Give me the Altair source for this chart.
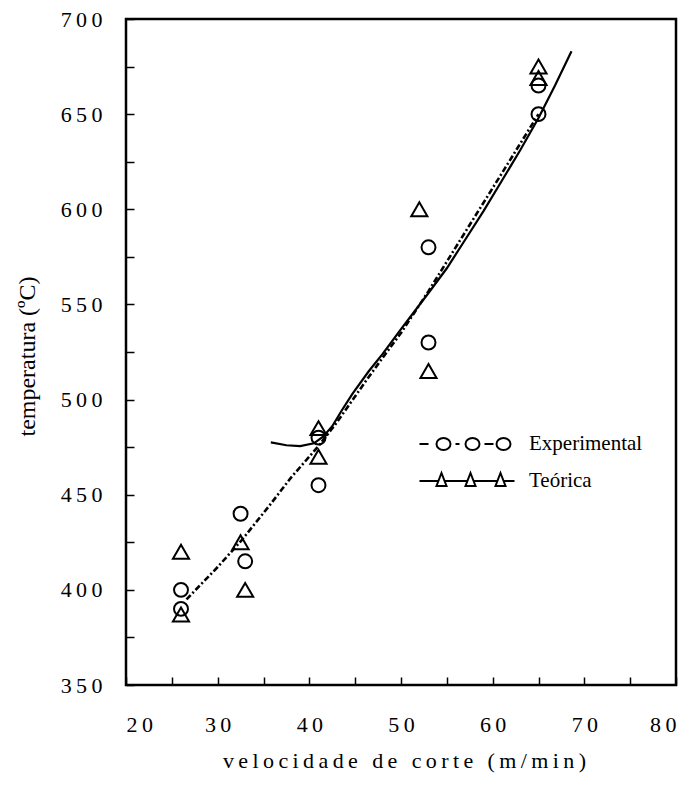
import altair as alt
import pandas as pd

# ---- data ----
series = ["Experimental", "Teórica"]

exp_x = [26, 26, 32.5, 33, 41, 41, 53, 53, 65, 65]
exp_y = [400, 390, 440, 415, 480, 455, 580, 530, 665, 650]

teo_x = [26, 26, 32.5, 33, 41, 41, 52, 53, 65, 65]
teo_y = [420, 387, 425, 400, 485, 470, 600, 515, 675, 669]

exp_fit_x = [26.6, 30, 32.6, 35.6, 38, 40.9, 43, 46.2, 48, 50, 53, 57, 61.4, 65]
exp_fit_y = [395, 412, 426, 444, 459, 475, 488, 510, 522, 535, 557, 588, 622, 650]

teo_fit_x = [35.8, 37.5, 39, 40.5, 41.5, 42.5, 43.5, 44.7, 46.5, 48, 50, 53, 55,
             57, 59, 61, 63, 65, 66.8, 68.6]
teo_fit_y = [477.5, 476, 475.5, 477, 480.5, 486, 494, 503, 515, 524, 537, 556, 569,
             584, 599, 615, 631, 648, 665, 683]

x_labels = [20, 30, 40, 50, 60, 70, 80]
y_labels = [350, 400, 450, 500, 550, 600, 650, 700]
x_ticks = [20, 25, 30, 35, 40, 45, 50, 55, 60, 65, 70, 75, 80]
y_ticks = [350, 375, 400, 425, 450, 475, 500, 525, 550, 575, 600, 625, 650, 675, 700]

x_title = "velocidade de corte (m/min)"
y_title = "temperatura (ºC)"

# ---- tables ----
exp_pts = pd.DataFrame({"x": exp_x, "y": exp_y, "series": series[0]})
teo_pts = pd.DataFrame({"x": teo_x, "y": teo_y, "series": series[1]})
exp_fit = pd.DataFrame({"x": exp_fit_x, "y": exp_fit_y})
teo_fit = pd.DataFrame({"x": teo_fit_x, "y": teo_fit_y})

FONT = "Liberation Serif"
THIN = "\u2009"

xs = alt.Scale(domain=[20, 80], nice=False, zero=False)
ys = alt.Scale(domain=[350, 700], nice=False, zero=False)

label_expr = "join(split(datum.label, ''), '" + THIN + "')"

x_main = alt.Axis(orient="bottom", values=x_labels, title=THIN.join(x_title),
                  titleFont=FONT, titleFontSize=22, titleFontWeight="normal",
                  titleColor="black", titleX=278, titleY=82,
                  titleBaseline="alphabetic", titleAlign="center",
                  labelFont=FONT, labelFontSize=22, labelColor="black",
                  labelPadding=29, labelExpr=label_expr,
                  ticks=False, tickSize=0, domain=False, grid=False)
y_main = alt.Axis(orient="left", values=y_labels, title=y_title,
                  titleFont=FONT, titleFontSize=24, titleFontWeight="normal",
                  titleColor="black", titleX=-92, titleY=337, titleAngle=270,
                  titleBaseline="alphabetic", titleAlign="center",
                  labelFont=FONT, labelFontSize=22, labelColor="black",
                  labelPadding=24, labelExpr=label_expr,
                  ticks=False, tickSize=0, domain=False, grid=False)

x_tick_axis = alt.Axis(orient="bottom", values=x_ticks, labels=False, domain=False,
                       grid=False, ticks=True, tickSize=8, tickWidth=1.5,
                       tickColor="black", offset=-8, title=None)
y_tick_axis = alt.Axis(orient="left", values=y_ticks, labels=False, domain=False,
                       grid=False, ticks=True, tickSize=8, tickWidth=1.5,
                       tickColor="black", offset=-8, title=None)

exp_line = alt.Chart(exp_fit).mark_line(
    color="black", strokeWidth=2.6, strokeDash=[6, 2.5, 2, 2.5]
).encode(
    x=alt.X("x:Q", scale=xs, axis=x_main),
    y=alt.Y("y:Q", scale=ys, axis=y_main),
)

teo_line = alt.Chart(teo_fit).mark_line(color="black", strokeWidth=2.2).encode(
    x=alt.X("x:Q", scale=xs, axis=x_tick_axis),
    y=alt.Y("y:Q", scale=ys, axis=y_tick_axis),
)

# legend sample glyphs (pixel units, symbolSize 4 -> scale 1)
exp_sym = ("M0,0H9 "
           "M17,0A7,6 0 1,1 31,0A7,6 0 1,1 17,0 "
           "M36,0H40 "
           "M46,0A7,6 0 1,1 60,0A7,6 0 1,1 46,0 "
           "M65,0H74 "
           "M77,0A7,6 0 1,1 91,0A7,6 0 1,1 77,0")
teo_sym = ("M0,0H18.9 M25.1,0H47.9 M54.1,0H77.9 M84.1,0H95 "
           "M22,-8L27,5L17,5Z M51,-8L56,5L46,5Z M81,-8L86,5L76,5Z")


def make_legend(sym, ly):
    return alt.Legend(
        orient="none", legendX=283, legendY=ly, title=None, padding=0,
        labelFont=FONT, labelFontSize=21, labelColor="black",
        symbolSize=4, symbolStrokeWidth=2, symbolStrokeColor="black",
        symbolFillColor="transparent", symbolType=sym,
        labelOffset=99,
    )


exp_points = alt.Chart(exp_pts).mark_point(
    filled=False, shape="circle", size=195, strokeWidth=2, opacity=1
).encode(
    x=alt.X("x:Q", scale=xs, axis=None),
    y=alt.Y("y:Q", scale=ys, axis=None),
    color=alt.Color("series:N",
                    scale=alt.Scale(domain=[series[0]], range=["black"]),
                    legend=make_legend(exp_sym, 414.5)),
)

teo_points = alt.Chart(teo_pts).mark_point(
    filled=False, shape="triangle-up", size=260, strokeWidth=2, opacity=1
).encode(
    x=alt.X("x:Q", scale=xs, axis=None),
    y=alt.Y("y:Q", scale=ys, axis=None),
    color=alt.Color("series:N",
                    scale=alt.Scale(domain=[series[1]], range=["black"]),
                    legend=make_legend(teo_sym, 451.5)),
)

chart = alt.layer(exp_line, teo_line, exp_points, teo_points).resolve_axis(
    x="independent", y="independent"
).resolve_scale(
    color="independent"
).properties(
    width=550, height=666,
    background="white",
    padding={"left": 118, "top": 11, "right": 8, "bottom": 90},
    autosize=alt.AutoSizeParams(type="none"),
).configure_view(
    stroke="black", strokeWidth=2.5
)

chart.save("out.html", embed_options={"renderer": "svg", "actions": False})
